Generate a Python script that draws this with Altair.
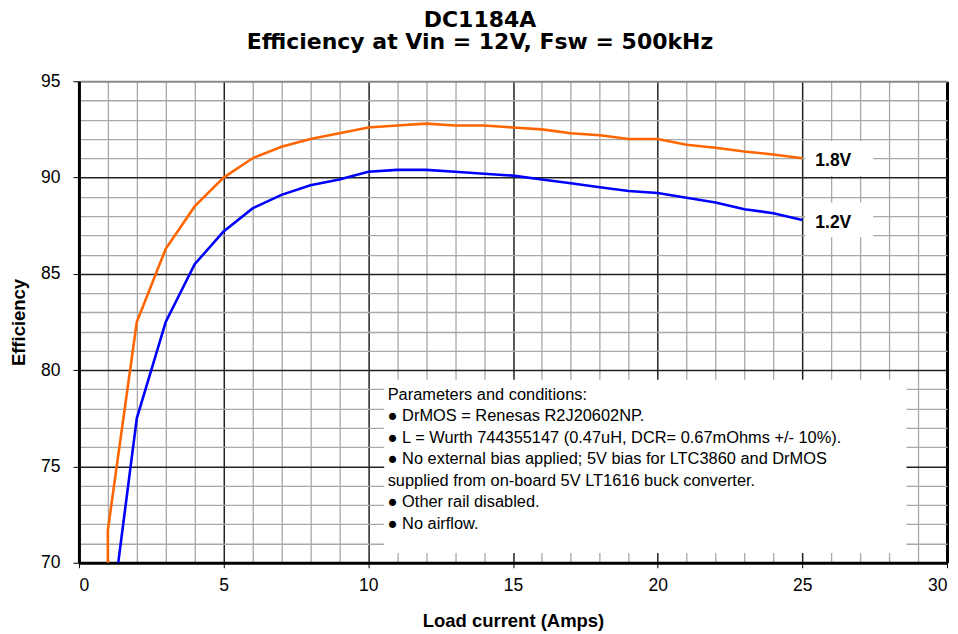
import altair as alt
import pandas as pd

title_lines = ["DC1184A", "Efficiency at Vin = 12V, Fsw = 500kHz"]
x_title = "Load current (Amps)"
y_title = "Efficiency"

series_names = ["1.8V", "1.2V"]
series_colors = ["#FF6600", "#0000FF"]

current_18 = [1.0, 1.0, 2, 3, 4, 5, 6, 7, 8, 9, 10, 11, 12, 13, 14, 15, 16, 17, 18, 19, 20, 21, 22, 23, 24, 25]
eff_18 = [66.0, 71.7, 82.5, 86.3, 88.5, 90.0, 91.0, 91.6, 92.0, 92.3, 92.6, 92.7, 92.8, 92.7, 92.7,
          92.6, 92.5, 92.3, 92.2, 92.0, 92.0, 91.7, 91.55, 91.35, 91.2, 91.0]

current_12 = [1, 2, 3, 4, 5, 6, 7, 8, 9, 10, 11, 12, 13, 14, 15, 16, 17, 18, 19, 20, 21, 22, 23, 24, 25]
eff_12 = [65.8, 77.5, 82.5, 85.5, 87.2, 88.4, 89.1, 89.6, 89.9, 90.3, 90.4, 90.4, 90.3, 90.2, 90.1,
          89.9, 89.7, 89.5, 89.3, 89.2, 88.95, 88.7, 88.35, 88.15, 87.8]

x_ticks = list(range(0, 31))
y_ticks = list(range(70, 96))

note_lines = [
    "Parameters and conditions:",
    "\u25cf DrMOS = Renesas R2J20602NP.",
    "\u25cf L = Wurth 744355147 (0.47uH, DCR= 0.67mOhms +/- 10%).",
    "\u25cf No external bias applied; 5V bias for LTC3860 and DrMOS",
    "supplied from on-board 5V LT1616 buck converter.",
    "\u25cf Other rail disabled.",
    "\u25cf No airflow.",
]
note_box_x = [10.55, 28.6]
note_box_y = [70.5, 79.5]
note_anchor = [10.67, 79.15]

rows = []
for name, xs, ys in [(series_names[0], current_18, eff_18), (series_names[1], current_12, eff_12)]:
    for k, (a, b) in enumerate(zip(xs, ys)):
        rows.append({"series": name, "current": a, "eff": b, "idx": k})
df = pd.DataFrame(rows)

ends = pd.DataFrame({
    "series": series_names,
    "current": [current_18[-1], current_12[-1]],
    "eff": [eff_18[-1], eff_12[-1]],
})

note_df = pd.DataFrame({"x": [note_box_x[0]], "x2": [note_box_x[1]],
                        "y": [note_box_y[0]], "y2": [note_box_y[1]],
                        "tx": [note_anchor[0]], "ty": [note_anchor[1]]})

x_scale = alt.Scale(domain=[0, 30], nice=False, zero=False)
y_scale = alt.Scale(domain=[70, 95], nice=False, zero=False)

major = "datum.value % 5 === 0"
x_axis = alt.Axis(
    values=x_ticks, title=x_title, grid=True, labelOverlap=False,
    gridColor={"condition": [{"test": "datum.value === 30", "value": "#000000"},
                             {"test": major, "value": "#222222"}], "value": "#a8a8a8"},
    gridWidth={"condition": [{"test": "datum.value === 30", "value": 3},
                             {"test": major, "value": 1.5}], "value": 1.3},
    tickOpacity={"condition": {"test": major, "value": 1}, "value": 0},
    labelExpr="datum.value % 5 === 0 ? datum.label : ''",
    domainColor="#000000", domainWidth=3, tickColor="#000000", tickSize=5,
    labelPadding=9, titlePadding=17,
)
y_axis = alt.Axis(
    values=y_ticks, title=y_title, grid=True, labelOverlap=False,
    gridColor={"condition": [{"test": "datum.value === 95", "value": "#888888"},
                             {"test": major, "value": "#222222"}], "value": "#a8a8a8"},
    gridWidth={"condition": [{"test": "datum.value === 95", "value": 2},
                             {"test": major, "value": 1.5}], "value": 1.3},
    tickOpacity={"condition": {"test": major, "value": 1}, "value": 0},
    labelExpr="datum.value % 5 === 0 ? datum.label : ''",
    domainColor="#000000", domainWidth=3, tickColor="#000000", tickSize=6,
    labelPadding=13, titlePadding=12,
)

color = alt.Color("series:N", scale=alt.Scale(domain=series_names, range=series_colors), legend=None)


def X(field):
    return alt.X(field, type="quantitative", scale=x_scale, axis=x_axis)


def Y(field):
    return alt.Y(field, type="quantitative", scale=y_scale, axis=y_axis)


lines = alt.Chart(df).mark_line(strokeWidth=2.6, clip=True).encode(
    x=X("current"), y=Y("eff"),
    color=color,
    order="idx:Q",
    detail="series:N",
)

note_box = alt.Chart(note_df).mark_rect(color="white").encode(
    x=X("x"), x2="x2:Q", y=Y("y"), y2="y2:Q")

note_text = alt.Chart(note_df).mark_text(
    text=note_lines, align="left", baseline="top", fontSize=16.4, lineHeight=21.6,
    color="black", font="Liberation Sans").encode(x=X("tx"), y=Y("ty"))

label_boxes = alt.Chart(ends).transform_calculate(
    bx="datum.current + 0.1", bx2="datum.current + 2.45",
    by="datum.eff - 0.9", by2="datum.eff + 0.9",
).mark_rect(color="white").encode(x=X("bx"), x2="bx2:Q", y=Y("by"), y2="by2:Q")

labels = alt.Chart(ends).mark_text(
    align="left", baseline="middle", dx=13, dy=3, fontSize=17.5, fontWeight="bold",
    color="black", font="Liberation Sans").encode(
    x=X("current"), y=Y("eff"), text="series:N")

chart = alt.layer(lines, note_box, label_boxes, note_text, labels).properties(
    width=869, height=482,
    autosize="none",
    padding={"left": 71, "top": 73, "right": 3, "bottom": 70},
    title=alt.Title(text=title_lines, fontSize=22, fontWeight="bold", lineHeight=22.5,
                    anchor="middle", dx=-33, offset=18, color="black",
                    font="DejaVu Sans"),
).configure(font="Liberation Sans").configure_view(stroke=None).configure_axis(
    labelFontSize=17.5, labelColor="black", titleFontSize=18.5, titleFontWeight="bold",
    titleColor="black", labelFont="Liberation Sans", titleFont="Liberation Sans",
)

chart.save("out.html", embed_options={"renderer": "svg", "actions": False})
